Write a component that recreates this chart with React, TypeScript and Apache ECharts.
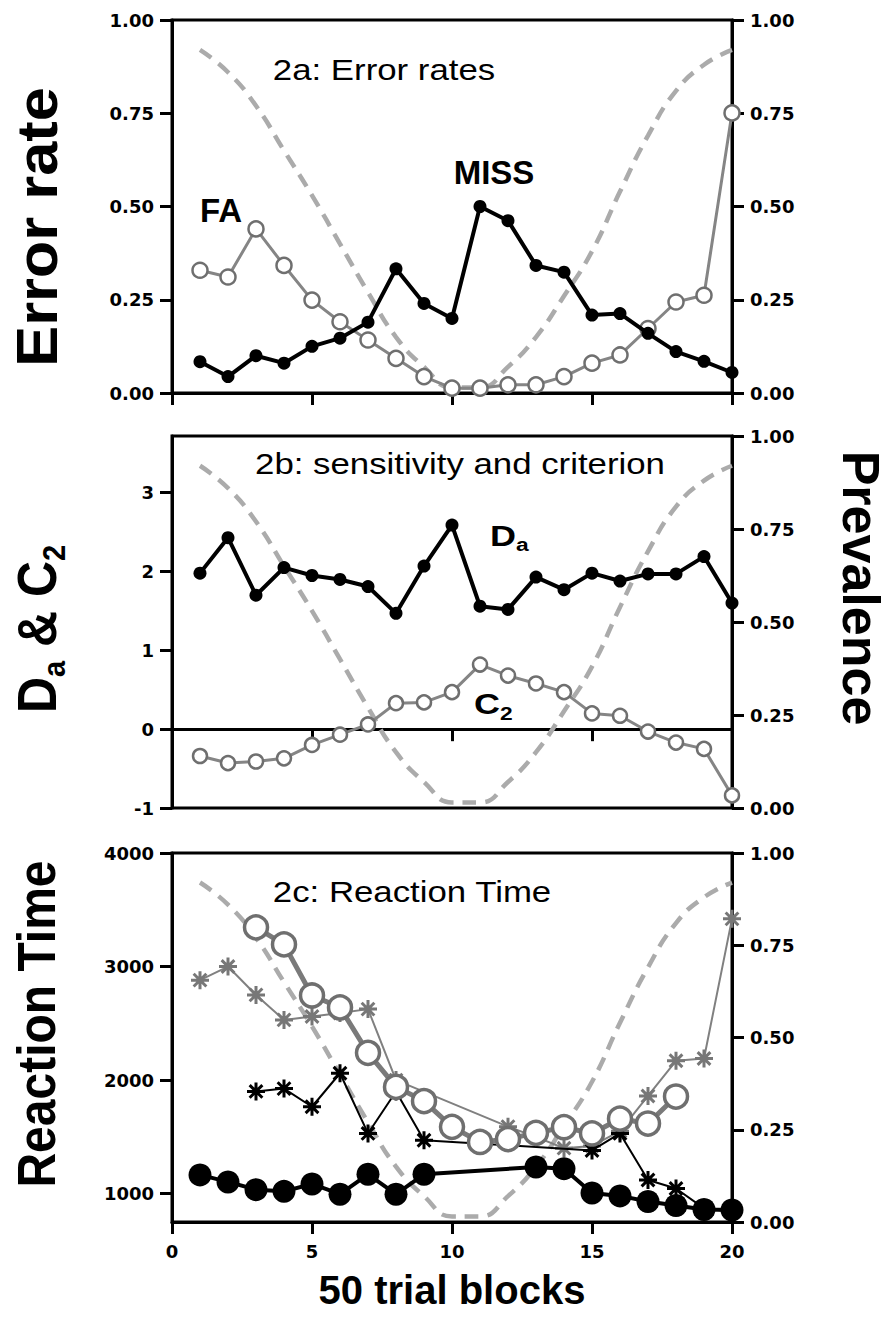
import React, { useEffect, useRef } from 'react';
import * as echarts from 'echarts';

// ---------- data ----------
const blocks = [1, 2, 3, 4, 5, 6, 7, 8, 9, 10, 11, 12, 13, 14, 15, 16, 17, 18, 19, 20];
const xTicks = [0, 5, 10, 15, 20];

// prevalence of targets (right axis, all panels)
const prevalence = [0.92, 0.86, 0.77, 0.65, 0.53, 0.40, 0.27, 0.15, 0.07, 0.015, 0.015, 0.07, 0.15, 0.26, 0.38, 0.54, 0.69, 0.81, 0.88, 0.92];

// 2a: error rates
const missRate = [0.084, 0.044, 0.10, 0.08, 0.125, 0.147, 0.19, 0.333, 0.24, 0.20, 0.50, 0.462, 0.342, 0.324, 0.209, 0.213, 0.16, 0.111, 0.085, 0.055];
const faRate = [0.329, 0.311, 0.44, 0.342, 0.249, 0.191, 0.142, 0.093, 0.044, 0.013, 0.013, 0.022, 0.022, 0.044, 0.08, 0.102, 0.173, 0.244, 0.262, 0.751];

// 2b: sensitivity and criterion
const da = [1.98, 2.43, 1.70, 2.05, 1.95, 1.90, 1.81, 1.47, 2.07, 2.59, 1.56, 1.52, 1.93, 1.77, 1.98, 1.88, 1.97, 1.97, 2.19, 1.60];
const c2 = [-0.34, -0.43, -0.41, -0.37, -0.20, -0.07, 0.06, 0.33, 0.34, 0.47, 0.82, 0.68, 0.58, 0.47, 0.20, 0.17, -0.03, -0.17, -0.25, -0.84];

// 2c: reaction time
const rtBlackCircle = [1165, 1103, 1035, 1020, 1085, 995, 1170, 995, 1170, null, null, null, 1235, 1220, 1005, 980, 930, 895, 860, 855];
const rtOpenCircle = [null, null, 3345, 3195, 2745, 2640, 2240, 1940, 1815, 1588, 1455, 1480, 1535, 1585, 1530, 1660, 1617, 1855, null, null];
const rtGrayStar = [2880, 3000, 2750, 2530, 2560, 2590, 2625, 2000, null, null, null, 1590, 1500, 1400, 1420, 1550, 1860, 2170, 2190, 3420];
const rtBlackStar = [null, null, 1900, 1925, 1765, 2060, 1530, 1900, 1470, null, null, null, null, null, 1380, 1530, 1120, 1045, 870, 840];

// ---------- helpers ----------
const pairs = (arr: (number | null)[]) =>
  blocks.map((b, i) => [b, arr[i]]).filter((p) => p[1] !== null && p[1] !== undefined);

const LAB = { fontFamily: 'DejaVu Sans', fontWeight: 'bold' as const, fontSize: 18, color: '#000' };
const AX_LINE = { color: '#000', width: 3 };
const TICK = { show: true, length: 12, lineStyle: { color: '#000', width: 3 } };
const STAR = 'path://M0,-10L0,10M-10,0L10,0M-7.07,-7.07L7.07,7.07M-7.07,7.07L7.07,-7.07';

const gridRects = [
  { top: 20, height: 373 },
  { top: 436, height: 372 },
  { top: 853, height: 369 },
];

function txt(x: number, y: number, text: string, size: number, o: any = {}) {
  return {
    type: 'text',
    x,
    y,
    rotation: o.rotation || 0,
    scaleX: o.scaleX || 1,
    scaleY: o.scaleY || 1,
    z: 100,
    style: {
      text,
      fontSize: size,
      fontFamily: 'Liberation Sans',
      fontWeight: o.bold ? 'bold' : 'normal',
      fill: '#000',
      align: o.align || 'center',
      verticalAlign: 'middle',
      textAlign: o.align || 'center',
      textVerticalAlign: 'middle',
    },
  };
}

const isInt = (v: number) => Math.abs(v - Math.round(v)) < 1e-9;

function buildOption() {
  const grid = gridRects.map((g) => ({
    left: 172,
    width: 560,
    top: g.top,
    height: g.height,
    show: true,
    borderColor: '#000',
    borderWidth: 3,
    backgroundColor: 'transparent',
  }));

  const xAxis = gridRects.map((_, i) => ({
    type: 'value',
    gridIndex: i,
    min: 0,
    max: 20,
    interval: 5,
    axisLine: { show: true, onZero: i === 1, onZeroAxisIndex: i === 1 ? 2 : undefined, lineStyle: AX_LINE },
    axisTick: TICK,
    axisLabel: { show: i === 2, margin: 20, ...LAB, formatter: (v: number) => (xTicks.includes(v) ? String(v) : '') },
    splitLine: { show: false },
  }));

  const rightAxis = (i: number) => ({
    type: 'value',
    gridIndex: i,
    position: 'right',
    min: 0,
    max: 1,
    interval: 0.25,
    axisLine: { show: true, onZero: false, lineStyle: AX_LINE },
    axisTick: TICK,
    axisLabel: { margin: 18, ...LAB, formatter: (v: number) => v.toFixed(2) },
    splitLine: { show: false },
  });

  const yAxis = [
    {
      type: 'value', gridIndex: 0, position: 'left', min: 0, max: 1, interval: 0.25,
      axisLine: { show: true, onZero: false, lineStyle: AX_LINE },
      axisTick: TICK,
      axisLabel: { margin: 18, ...LAB, formatter: (v: number) => v.toFixed(2) },
      splitLine: { show: false },
    },
    rightAxis(0),
    {
      type: 'value', gridIndex: 1, position: 'left', min: -1, max: 3.72, interval: 1,
      axisLine: { show: true, onZero: false, lineStyle: AX_LINE },
      axisTick: TICK,
      axisLabel: { margin: 18, ...LAB, showMaxLabel: false, formatter: (v: number) => (isInt(v) ? String(v) : '') },
      splitLine: { show: false },
    },
    rightAxis(1),
    {
      type: 'value', gridIndex: 2, position: 'left', min: 750, max: 4000, minInterval: 1000, maxInterval: 1000,
      axisLine: { show: true, onZero: false, lineStyle: AX_LINE },
      axisTick: TICK,
      axisLabel: { margin: 18, ...LAB, showMinLabel: false, formatter: (v: number) => (v % 1000 === 0 ? String(v) : '') },
      splitLine: { show: false },
    },
    rightAxis(2),
  ];

  const dashed = (i: number) => ({
    type: 'line',
    xAxisIndex: i,
    yAxisIndex: 2 * i + 1,
    data: pairs(prevalence),
    smooth: 0.5,
    symbol: 'none',
    z: 1,
    lineStyle: { color: '#ababab', width: 4.5, type: [14, 9] },
  });

  const series: any[] = [
    dashed(0),
    {
      type: 'line', xAxisIndex: 0, yAxisIndex: 0, data: pairs(faRate), z: 3,
      symbol: 'circle', symbolSize: 15,
      lineStyle: { color: '#858585', width: 3 },
      itemStyle: { color: '#ffffff', borderColor: '#6f6f6f', borderWidth: 2.5 },
    },
    {
      type: 'line', xAxisIndex: 0, yAxisIndex: 0, data: pairs(missRate), z: 4,
      symbol: 'circle', symbolSize: 13,
      lineStyle: { color: '#000', width: 4 },
      itemStyle: { color: '#000', borderColor: '#000', borderWidth: 0 },
    },
    dashed(1),
    {
      type: 'line', xAxisIndex: 1, yAxisIndex: 2, data: pairs(c2), z: 3,
      symbol: 'circle', symbolSize: 14,
      lineStyle: { color: '#858585', width: 3 },
      itemStyle: { color: '#ffffff', borderColor: '#6f6f6f', borderWidth: 2.5 },
    },
    {
      type: 'line', xAxisIndex: 1, yAxisIndex: 2, data: pairs(da), z: 4,
      symbol: 'circle', symbolSize: 13,
      lineStyle: { color: '#000', width: 4 },
      itemStyle: { color: '#000', borderWidth: 0 },
    },
    dashed(2),
    {
      type: 'line', xAxisIndex: 2, yAxisIndex: 4, data: pairs(rtGrayStar), z: 2,
      symbol: STAR, symbolSize: 18,
      lineStyle: { color: '#808080', width: 2 },
      itemStyle: { color: '#777777', borderColor: '#777777', borderWidth: 3 },
    },
    {
      type: 'line', xAxisIndex: 2, yAxisIndex: 4, data: pairs(rtBlackStar), z: 3,
      symbol: STAR, symbolSize: 18,
      lineStyle: { color: '#000', width: 2 },
      itemStyle: { color: '#000', borderColor: '#000', borderWidth: 3 },
    },
    {
      type: 'line', xAxisIndex: 2, yAxisIndex: 4, data: pairs(rtOpenCircle), z: 4,
      symbol: 'circle', symbolSize: 23,
      lineStyle: { color: '#7a7a7a', width: 5 },
      itemStyle: { color: '#ffffff', borderColor: '#6f6f6f', borderWidth: 3.5 },
    },
    {
      type: 'line', xAxisIndex: 2, yAxisIndex: 4, data: pairs(rtBlackCircle), z: 5,
      symbol: 'circle', symbolSize: 23,
      lineStyle: { color: '#000', width: 4 },
      itemStyle: { color: '#000', borderWidth: 0 },
    },
  ];

  const R = Math.PI / 2;
  const graphic: any[] = [
    // panel titles
    txt(384, 70, '2a: Error rates', 29, { scaleX: 1.2 }),
    txt(460, 464, '2b: sensitivity and criterion', 29, { scaleX: 1.2 }),
    txt(412, 892, '2c: Reaction Time', 29, { scaleX: 1.2 }),
    // annotations
    txt(221, 210, 'FA', 33, { bold: true }),
    txt(494, 172, 'MISS', 33, { bold: true }),
    txt(490, 536, 'D', 30, { bold: true, align: 'left', scaleX: 1.2 }),
    txt(516, 544, 'a', 19, { bold: true, align: 'left', scaleX: 1.2 }),
    txt(474, 704, 'C', 30, { bold: true, align: 'left', scaleX: 1.2 }),
    txt(500, 713, '2', 19, { bold: true, align: 'left', scaleX: 1.2 }),
    // axis titles
    txt(452, 1290, '50 trial blocks', 40, { bold: true }),
    txt(37, 227, 'Error rate', 52, { bold: true, rotation: R, scaleX: 1.18, scaleY: 1.1 }),
    txt(37, 1024, 'Reaction Time', 48, { bold: true, rotation: R, scaleY: 1.1 }),
    txt(861, 588, 'Prevalence', 52, { bold: true, rotation: -R, scaleY: 1.0 }),
    {
      type: 'group',
      x: 37,
      y: 629,
      rotation: R,
      children: [
        txt(-84, 0, 'D', 50, { bold: true, align: 'left', scaleY: 1.1 }),
        txt(-48, 16, 'a', 29, { bold: true, align: 'left', scaleY: 1.1 }),
        txt(-32, 0, ' & C', 50, { bold: true, align: 'left', scaleY: 1.1 }),
        txt(68, 16, '2', 29, { bold: true, align: 'left', scaleY: 1.1 }),
      ],
    },
  ];

  return { animation: false, backgroundColor: '#fff', grid, xAxis, yAxis, series, graphic };
}

export default function App() {
  const ref = useRef<HTMLDivElement>(null);
  useEffect(() => {
    const chart = echarts.init(ref.current!, undefined, { renderer: 'svg' });
    chart.setOption(buildOption() as any);
    return () => chart.dispose();
  }, []);
  return (
    <div
      ref={ref}
      style={{ position: 'absolute', left: 0, top: 0, width: 892, height: 1317, background: '#fff' }}
    />
  );
}
